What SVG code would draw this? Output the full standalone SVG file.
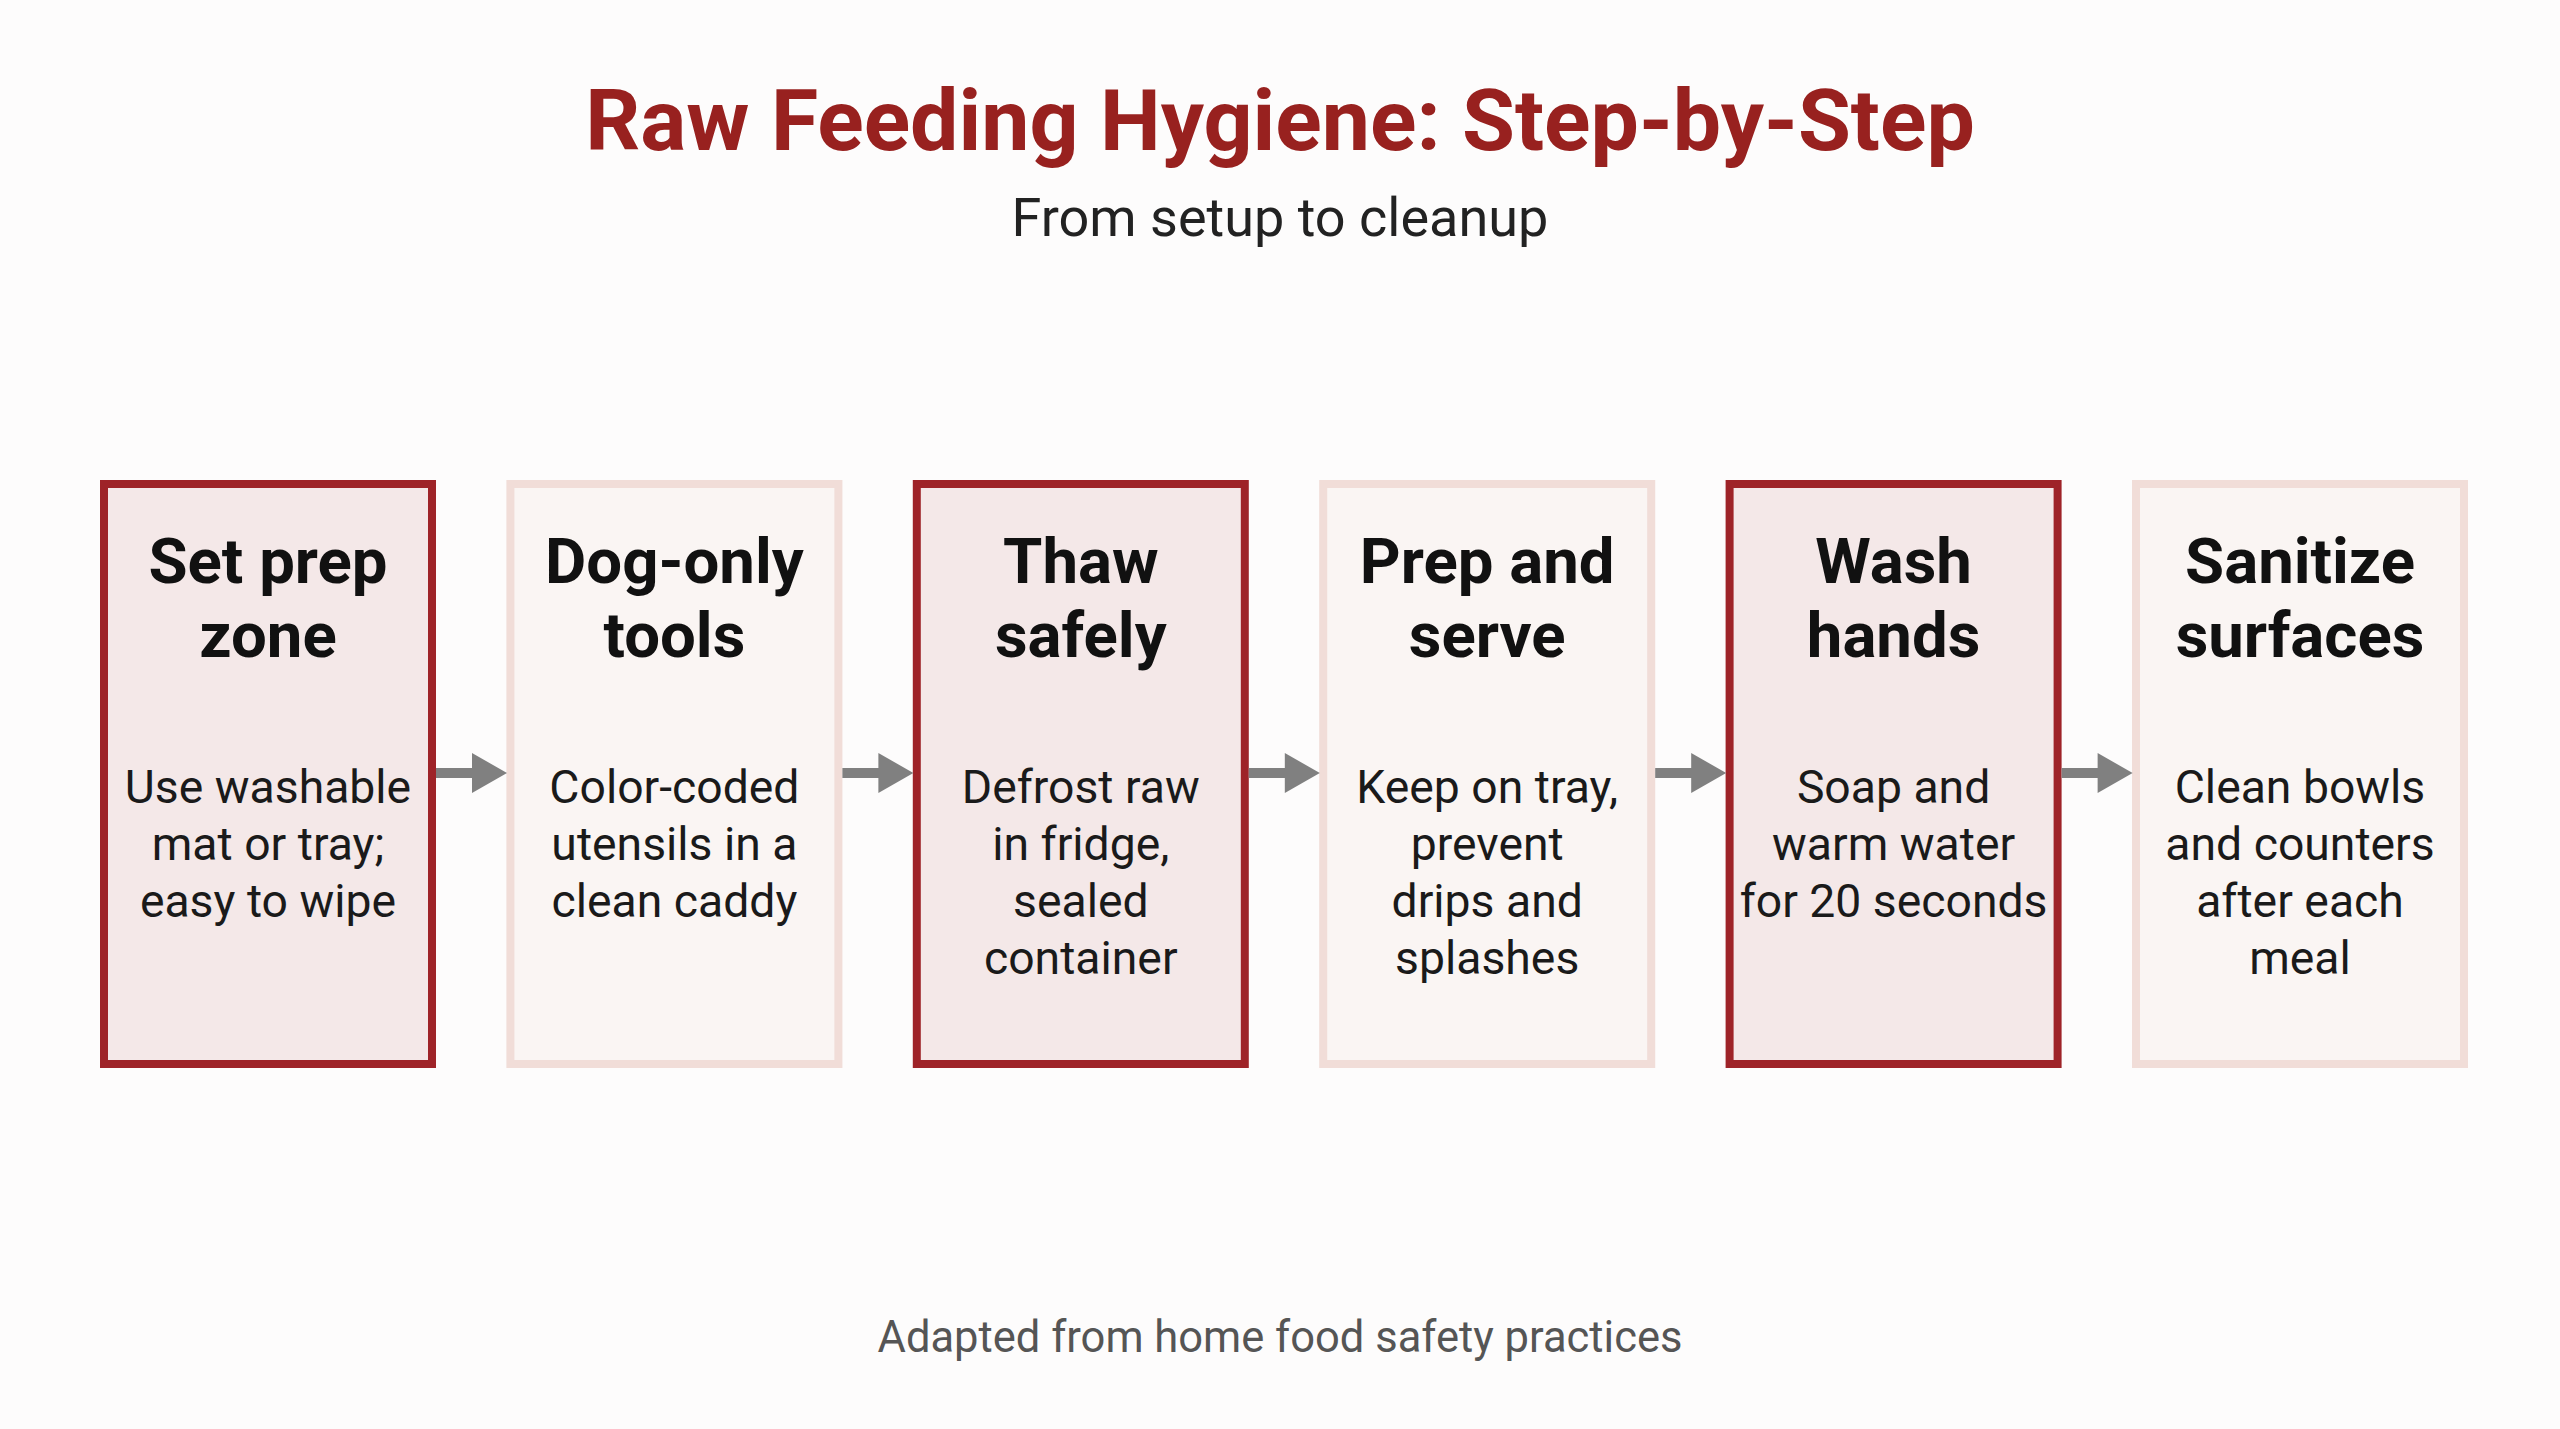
<svg xmlns="http://www.w3.org/2000/svg" width="2560" height="1429" viewBox="0 0 2560 1429">
  <style>
    .title { font-family: Roboto, "Liberation Sans", sans-serif; font-weight: 700; font-size: 86px; fill: #98211f; text-anchor: middle; }
    .subtitle { font-family: Roboto, "Liberation Sans", sans-serif; font-size: 54px; fill: #222222; text-anchor: middle; }
    .footer { font-family: Roboto, "Liberation Sans", sans-serif; font-size: 43.5px; fill: #555555; text-anchor: middle; }
    .box-dark { fill: #f4e8e8; stroke: #9e2328; stroke-width: 8; }
    .box-light { fill: #faf5f3; stroke: #f1ddd8; stroke-width: 8; }
    .head { font-family: Roboto, "Liberation Sans", sans-serif; font-weight: 700; font-size: 63.5px; fill: #111111; text-anchor: middle; }
    .body { font-family: Roboto, "Liberation Sans", sans-serif; font-size: 46.3px; fill: #1a1a1a; text-anchor: middle; }
    .conn line { stroke: #808080; stroke-width: 10; }
    .conn polygon { fill: #808080; }
  </style>
  <rect width="2560" height="1429" fill="#fdfcfc"/>
  <g id="header">
    <text class="title" x="1280" y="150">Raw Feeding Hygiene: Step-by-Step</text>
    <text class="subtitle" x="1280" y="236">From setup to cleanup</text>
  </g>
  <g id="step1">
    <rect class="box-dark" x="104" y="484" width="328" height="580"/>
    <text class="head" x="268" y="583">Set prep</text>
    <text class="head" x="268" y="657">zone</text>
    <text class="body" x="268" y="803">Use washable</text>
    <text class="body" x="268" y="860">mat or tray;</text>
    <text class="body" x="268" y="917">easy to wipe</text>
  </g>
  <g id="step2">
    <rect class="box-light" x="510.4" y="484" width="328" height="580"/>
    <text class="head" x="674.4" y="583">Dog-only</text>
    <text class="head" x="674.4" y="657">tools</text>
    <text class="body" x="674.4" y="803">Color-coded</text>
    <text class="body" x="674.4" y="860">utensils in a</text>
    <text class="body" x="674.4" y="917">clean caddy</text>
  </g>
  <g id="step3">
    <rect class="box-dark" x="916.8" y="484" width="328" height="580"/>
    <text class="head" x="1080.8" y="583">Thaw</text>
    <text class="head" x="1080.8" y="657">safely</text>
    <text class="body" x="1080.8" y="803">Defrost raw</text>
    <text class="body" x="1080.8" y="860">in fridge,</text>
    <text class="body" x="1080.8" y="917">sealed</text>
    <text class="body" x="1080.8" y="974">container</text>
  </g>
  <g id="step4">
    <rect class="box-light" x="1323.2" y="484" width="328" height="580"/>
    <text class="head" x="1487.2" y="583">Prep and</text>
    <text class="head" x="1487.2" y="657">serve</text>
    <text class="body" x="1487.2" y="803">Keep on tray,</text>
    <text class="body" x="1487.2" y="860">prevent</text>
    <text class="body" x="1487.2" y="917">drips and</text>
    <text class="body" x="1487.2" y="974">splashes</text>
  </g>
  <g id="step5">
    <rect class="box-dark" x="1729.6" y="484" width="328" height="580"/>
    <text class="head" x="1893.6" y="583">Wash</text>
    <text class="head" x="1893.6" y="657">hands</text>
    <text class="body" x="1893.6" y="803">Soap and</text>
    <text class="body" x="1893.6" y="860">warm water</text>
    <text class="body" x="1893.6" y="917">for 20 seconds</text>
  </g>
  <g id="step6">
    <rect class="box-light" x="2136" y="484" width="328" height="580"/>
    <text class="head" x="2300" y="583">Sanitize</text>
    <text class="head" x="2300" y="657">surfaces</text>
    <text class="body" x="2300" y="803">Clean bowls</text>
    <text class="body" x="2300" y="860">and counters</text>
    <text class="body" x="2300" y="917">after each</text>
    <text class="body" x="2300" y="974">meal</text>
  </g>
  <g id="connectors" class="conn">
    <line x1="436" y1="773" x2="474" y2="773"/>
    <polygon points="472,753 507,773 472,793"/>
    <line x1="842.4" y1="773" x2="880.4" y2="773"/>
    <polygon points="878.4,753 913.4,773 878.4,793"/>
    <line x1="1248.8" y1="773" x2="1286.8" y2="773"/>
    <polygon points="1284.8,753 1319.8,773 1284.8,793"/>
    <line x1="1655.2" y1="773" x2="1693.2" y2="773"/>
    <polygon points="1691.2,753 1726.2,773 1691.2,793"/>
    <line x1="2061.6" y1="773" x2="2099.6" y2="773"/>
    <polygon points="2097.6,753 2132.6,773 2097.6,793"/>
  </g>
  <g id="footer">
    <text class="footer" x="1280" y="1352">Adapted from home food safety practices</text>
  </g>
</svg>
